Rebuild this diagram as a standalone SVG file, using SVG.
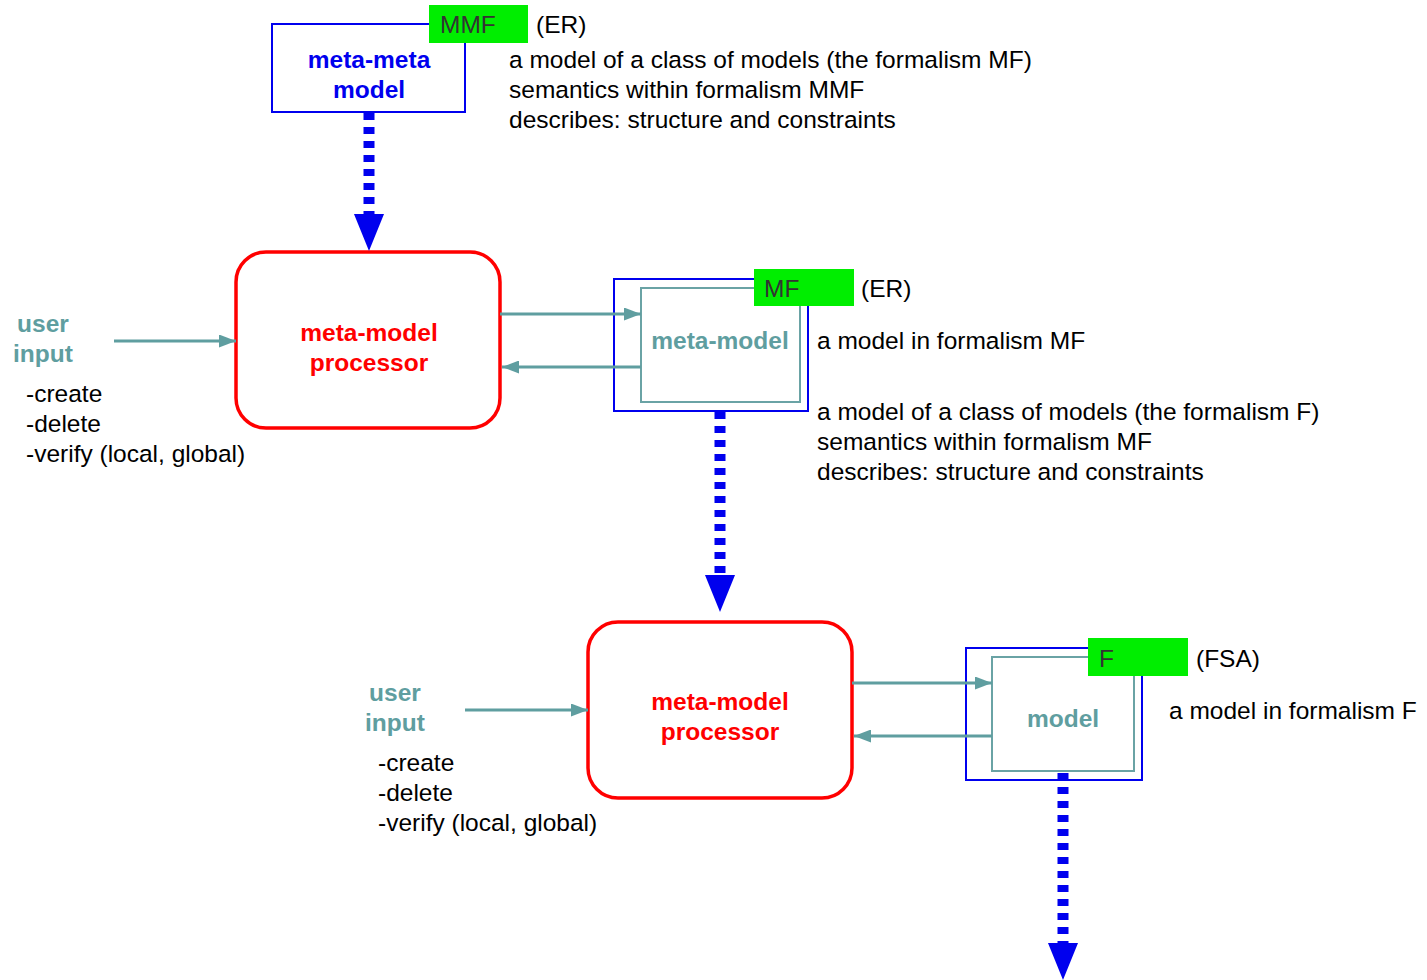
<svg xmlns="http://www.w3.org/2000/svg" width="1427" height="980" viewBox="0 0 1427 980">
<style>
text{font-family:"Liberation Sans",Arial,sans-serif;font-size:24.5px;fill:#000}
.b{font-weight:bold;text-anchor:middle}
.blue{fill:#0000ee}
.red{fill:#ff0000}
.teal{fill:#5f9ea0}
.tag{fill:#333}
.outer{fill:none;stroke:#0000ee;stroke-width:2}
.inner{fill:none;stroke:#6aa3a5;stroke-width:2}
.green{fill:#00ee00}
.proc{fill:none;stroke:#ff0000;stroke-width:3.5}
.dash{stroke:#0000ee;stroke-width:11;stroke-dasharray:7 7;fill:none}
.tl{stroke:#5f9ea0;stroke-width:3;fill:none}
</style>
<defs>
<marker id="ah" viewBox="0 0 17 13" refX="17" refY="6.5" markerWidth="17" markerHeight="13" markerUnits="userSpaceOnUse" orient="auto">
<path d="M0,0 L17,6.5 L0,13 z" fill="#5f9ea0"/>
</marker>
</defs>

<g id="mmm">
<rect class="outer" x="272" y="24" width="193" height="88"/>
<text class="b blue" x="369" y="68">meta-meta</text>
<text class="b blue" x="369" y="98">model</text>
<rect class="green" x="429" y="5" width="99" height="38"/>
<text class="tag" x="440" y="33">MMF</text>
<text x="536" y="33">(ER)</text>
<text x="509" y="68">a model of a class of models (the formalism MF)</text>
<text x="509" y="98">semantics within formalism MMF</text>
<text x="509" y="128">describes: structure and constraints</text>
</g>

<g id="proc1">
<rect class="proc" x="236" y="252" width="264" height="176" rx="30"/>
<text class="b red" x="369" y="341">meta-model</text>
<text class="b red" x="369" y="371">processor</text>
</g>

<g id="user1">
<text class="b teal" x="43" y="332">user</text>
<text class="b teal" x="43" y="362">input</text>
<text x="26" y="402">-create</text>
<text x="26" y="432">-delete</text>
<text x="26" y="462">-verify (local, global)</text>
</g>

<g id="mm">
<rect class="outer" x="614" y="279" width="194" height="132"/>
<rect class="inner" x="641" y="288" width="159" height="114"/>
<text class="b teal" x="720" y="349">meta-model</text>
<rect class="green" x="754" y="269" width="100" height="37"/>
<text class="tag" x="764" y="297">MF</text>
<text x="861" y="297">(ER)</text>
<text x="817" y="349">a model in formalism MF</text>
<text x="817" y="420">a model of a class of models (the formalism F)</text>
<text x="817" y="450">semantics within formalism MF</text>
<text x="817" y="480">describes: structure and constraints</text>
</g>

<g id="proc2">
<rect class="proc" x="588" y="622" width="264" height="176" rx="30"/>
<text class="b red" x="720" y="710">meta-model</text>
<text class="b red" x="720" y="740">processor</text>
</g>

<g id="user2">
<text class="b teal" x="395" y="701">user</text>
<text class="b teal" x="395" y="731">input</text>
<text x="378" y="771">-create</text>
<text x="378" y="801">-delete</text>
<text x="378" y="831">-verify (local, global)</text>
</g>

<g id="model">
<rect class="outer" x="966" y="648" width="176" height="132"/>
<rect class="inner" x="992" y="657" width="142" height="114"/>
<text class="b teal" x="1063" y="727">model</text>
<rect class="green" x="1088" y="638" width="100" height="38"/>
<text class="tag" x="1099" y="667">F</text>
<text x="1196" y="667">(FSA)</text>
<text x="1169" y="719">a model in formalism F</text>
</g>

<g id="connectors">
<line class="dash" x1="369" y1="113" x2="369" y2="216"/>
<path d="M354,214 L384,214 L369,251 z" fill="#0000ee"/>
<line class="dash" x1="720" y1="412" x2="720" y2="577"/>
<path d="M705,575 L735,575 L720,612 z" fill="#0000ee"/>
<line class="dash" x1="1063" y1="773" x2="1063" y2="945"/>
<path d="M1048,943 L1078,943 L1063,980 z" fill="#0000ee"/>
<line class="tl" x1="114" y1="341" x2="236" y2="341" marker-end="url(#ah)"/>
<line class="tl" x1="465" y1="710" x2="588" y2="710" marker-end="url(#ah)"/>
<line class="tl" x1="500" y1="314" x2="641" y2="314" marker-end="url(#ah)"/>
<line class="tl" x1="641" y1="367" x2="502" y2="367" marker-end="url(#ah)"/>
<line class="tl" x1="852" y1="683" x2="992" y2="683" marker-end="url(#ah)"/>
<line class="tl" x1="992" y1="736" x2="854" y2="736" marker-end="url(#ah)"/>
</g>
</svg>
